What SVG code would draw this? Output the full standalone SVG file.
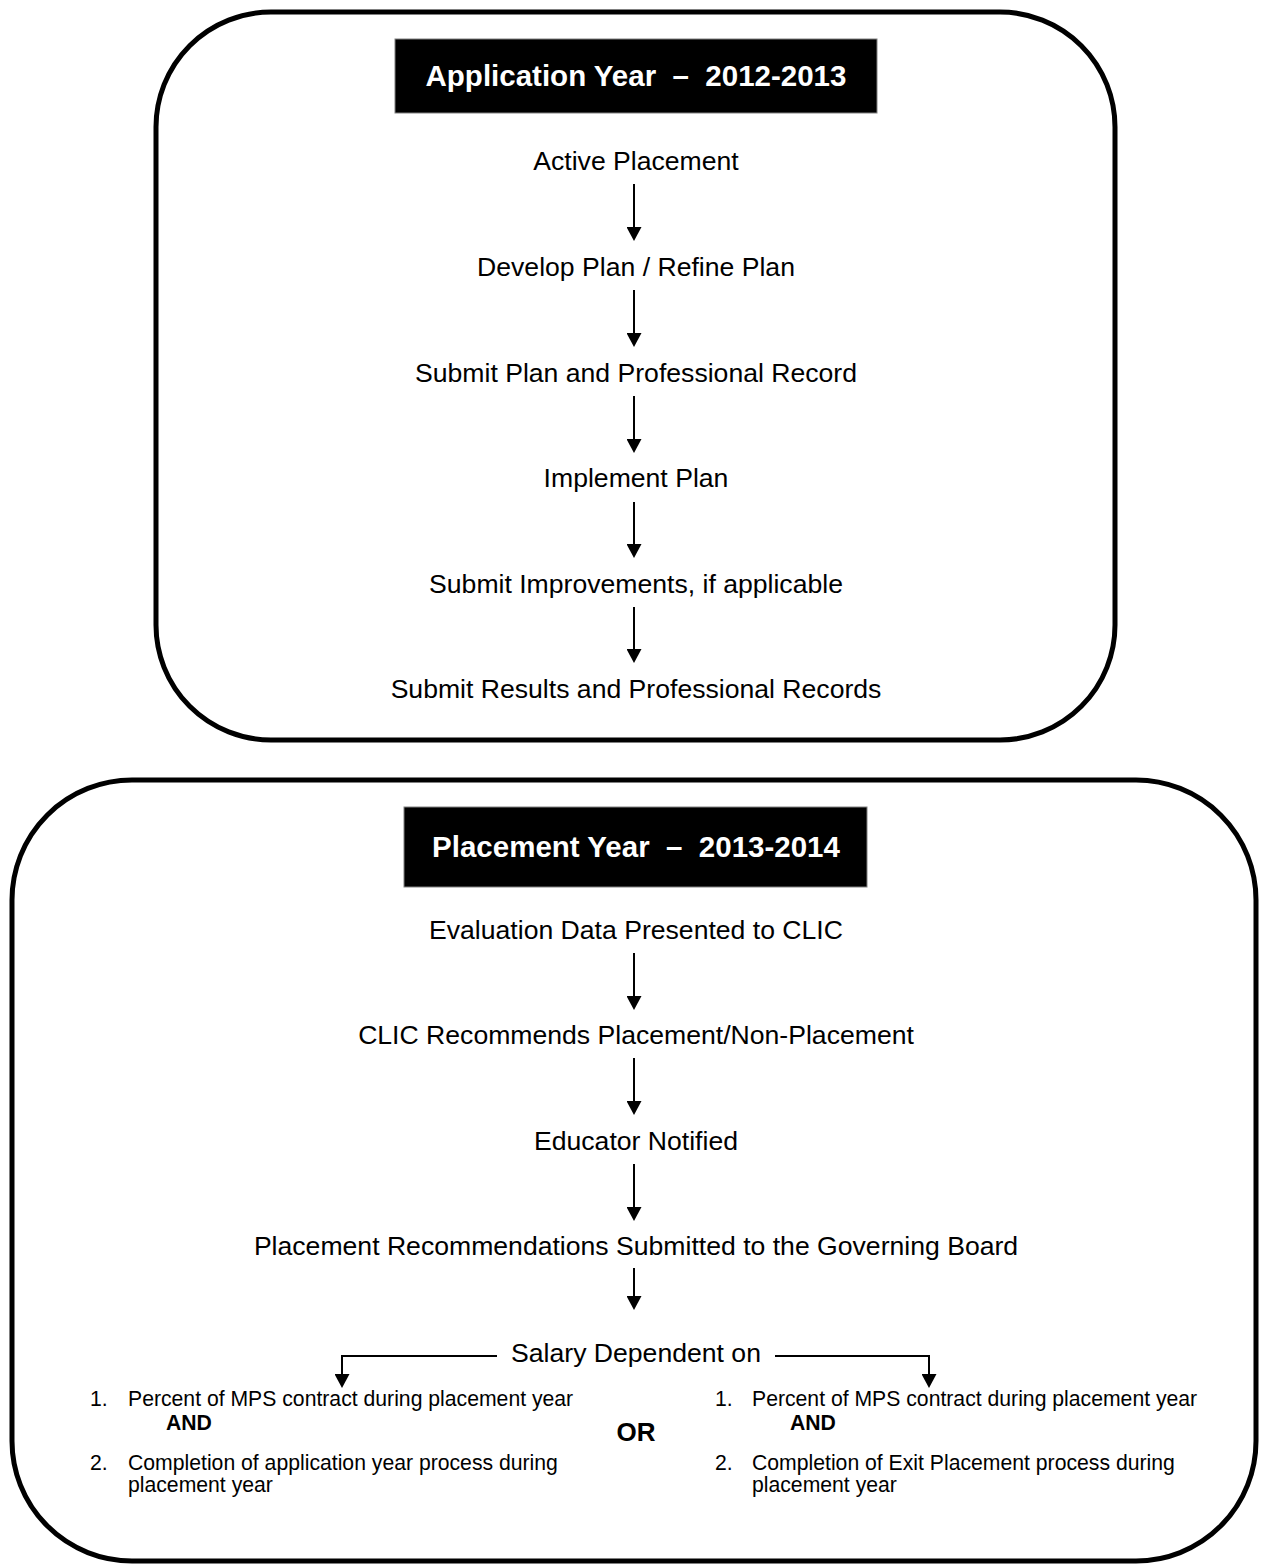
<svg xmlns="http://www.w3.org/2000/svg" width="1263" height="1566" viewBox="0 0 1263 1566">
<style>
.frame{fill:none;stroke:#000;stroke-width:5}
.hdr{fill:#000;stroke:#808080;stroke-width:1}
.htxt{font-family:"Liberation Sans",Arial,sans-serif;font-weight:bold;font-size:29.5px;fill:#fff;text-anchor:middle}
.step{font-family:"Liberation Sans",Arial,sans-serif;font-size:26.6px;fill:#000;text-anchor:middle}
.li{font-family:"Liberation Sans",Arial,sans-serif;font-size:21.2px;fill:#000}
.bold{font-weight:bold}
.conn{fill:none;stroke:#000;stroke-width:2}
</style>
<defs>
<marker id="ah" viewBox="0 0 14 15" refX="7" refY="7.5" markerWidth="14" markerHeight="15" markerUnits="userSpaceOnUse" orient="auto">
<path d="M0,0 L14,7.5 L0,15 z" fill="#000"/>
</marker>
</defs>
<rect width="1263" height="1566" fill="#fff"/>

<g id="application-year">
<rect class="frame" x="156" y="12" width="959" height="728" rx="115" ry="115"/>
<g id="hdr-application">
<rect class="hdr" x="395" y="39" width="482" height="74"/>
<text class="htxt" x="636" y="86" xml:space="preserve">Application Year  –  2012-2013</text>
</g>
<g id="n-active"><text class="step" x="636" y="170">Active Placement</text></g>
<g id="n-develop"><text class="step" x="636" y="276">Develop Plan / Refine Plan</text></g>
<g id="n-submit-plan"><text class="step" x="636" y="382">Submit Plan and Professional Record</text></g>
<g id="n-implement"><text class="step" x="636" y="487">Implement Plan</text></g>
<g id="n-improvements"><text class="step" x="636" y="593">Submit Improvements, if applicable</text></g>
<g id="n-results"><text class="step" x="636" y="698">Submit Results and Professional Records</text></g>
</g>

<g id="placement-year">
<rect class="frame" x="12" y="780" width="1244" height="781" rx="120" ry="120"/>
<g id="hdr-placement">
<rect class="hdr" x="404" y="807" width="463" height="80"/>
<text class="htxt" x="636" y="857" xml:space="preserve">Placement Year  –  2013-2014</text>
</g>
<g id="n-evaluation"><text class="step" x="636" y="939">Evaluation Data Presented to CLIC</text></g>
<g id="n-clic"><text class="step" x="636" y="1044">CLIC Recommends Placement/Non-Placement</text></g>
<g id="n-notified"><text class="step" x="636" y="1150">Educator Notified</text></g>
<g id="n-board"><text class="step" x="636" y="1255">Placement Recommendations Submitted to the Governing Board</text></g>
<g id="n-salary"><text class="step" x="636" y="1362">Salary Dependent on</text></g>
<g id="n-option-left">
<text class="li" x="90" y="1406">1.</text>
<text class="li" x="128" y="1406">Percent of MPS contract during placement year</text>
<text class="li bold" x="166" y="1430">AND</text>
<text class="li" x="90" y="1470">2.</text>
<text class="li" x="128" y="1470">Completion of application year process during</text>
<text class="li" x="128" y="1492">placement year</text>
</g>
<g id="n-or"><text class="li bold" x="636" y="1441" style="font-size:26px;text-anchor:middle">OR</text></g>
<g id="n-option-right">
<text class="li" x="715" y="1406">1.</text>
<text class="li" x="752" y="1406">Percent of MPS contract during placement year</text>
<text class="li bold" x="790" y="1430">AND</text>
<text class="li" x="715" y="1470">2.</text>
<text class="li" x="752" y="1470">Completion of Exit Placement process during</text>
<text class="li" x="752" y="1492">placement year</text>
</g>
</g>

<g id="connectors">
<line class="conn" x1="634" y1="184" x2="634" y2="234" marker-end="url(#ah)"/>
<line class="conn" x1="634" y1="290" x2="634" y2="340" marker-end="url(#ah)"/>
<line class="conn" x1="634" y1="396" x2="634" y2="446" marker-end="url(#ah)"/>
<line class="conn" x1="634" y1="502" x2="634" y2="551" marker-end="url(#ah)"/>
<line class="conn" x1="634" y1="607" x2="634" y2="656" marker-end="url(#ah)"/>
<line class="conn" x1="634" y1="953" x2="634" y2="1003" marker-end="url(#ah)"/>
<line class="conn" x1="634" y1="1058" x2="634" y2="1108" marker-end="url(#ah)"/>
<line class="conn" x1="634" y1="1164" x2="634" y2="1214" marker-end="url(#ah)"/>
<line class="conn" x1="634" y1="1268" x2="634" y2="1303" marker-end="url(#ah)"/>
<path class="conn" d="M497,1356 H342 V1381" marker-end="url(#ah)"/>
<path class="conn" d="M775,1356 H929 V1381" marker-end="url(#ah)"/>
</g>
</svg>
